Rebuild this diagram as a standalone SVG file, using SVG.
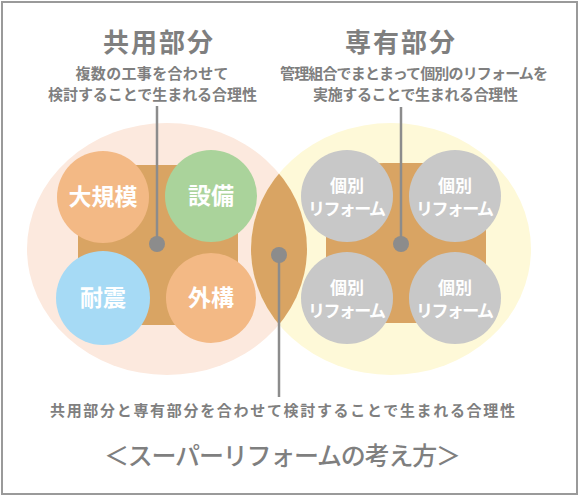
<svg xmlns="http://www.w3.org/2000/svg" width="579" height="498" viewBox="0 0 579 498">
<style>
.t{font-family:"Noto Sans CJK JP","Noto Sans",sans-serif;fill:#7f7f7f;text-anchor:middle}
.h{font-size:26px;font-weight:700}
.c{font-size:15px;font-weight:700}
.w{font-family:"Noto Sans CJK JP","Noto Sans",sans-serif;fill:#ffffff;text-anchor:middle;font-weight:700}
.big{font-size:23px}
.sm{font-size:17px}
.brown{fill:#d9a463}
.ln{stroke:#8c8c8c;stroke-width:2.5;fill:none}
.dot{fill:#8c8c8c}
.gray{fill:#c8c8c8}
</style>
<defs>
<clipPath id="clipL"><ellipse cx="167" cy="249" rx="140" ry="126"/></clipPath>
</defs>
<rect x="2" y="2" width="575" height="492" fill="#ffffff" stroke="#9a9a9a" stroke-width="2"/>
<g id="common-area">
<ellipse cx="167" cy="249" rx="140" ry="126" fill="#fce9de"/>
</g>
<g id="private-area">
<ellipse cx="391" cy="249" rx="140" ry="126" fill="#fef9d8"/>
</g>
<g id="overlap">
<ellipse cx="391" cy="249" rx="140" ry="126" class="brown" clip-path="url(#clipL)"/>
</g>
<g id="common-core">
<rect x="78" y="165" width="160" height="160" rx="58" class="brown"/>
</g>
<g id="private-core">
<rect x="326" y="163" width="160" height="160" rx="58" class="brown"/>
</g>
<g id="n-daikibo">
<circle cx="103" cy="197" r="46" fill="#f3b985"/>
<text class="w big" x="103" y="205">大規模</text>
</g>
<g id="n-setsubi">
<circle cx="211" cy="196" r="46" fill="#aad39b"/>
<text class="w big" x="211" y="204">設備</text>
</g>
<g id="n-taishin">
<circle cx="103" cy="298" r="47" fill="#a6daf5"/>
<text class="w big" x="103" y="306">耐震</text>
</g>
<g id="n-gaiko">
<circle cx="211" cy="298" r="45" fill="#f3b985"/>
<text class="w big" x="211" y="306">外構</text>
</g>
<g id="n-reform1">
<circle cx="347" cy="196" r="46" class="gray"/>
<text class="w sm" x="347" y="192">個別</text>
<text class="w sm" x="347" y="215" textLength="78">リフォーム</text>
</g>
<g id="n-reform2">
<circle cx="455" cy="196" r="46" class="gray"/>
<text class="w sm" x="455" y="192">個別</text>
<text class="w sm" x="455" y="215" textLength="78">リフォーム</text>
</g>
<g id="n-reform3">
<circle cx="347" cy="298" r="46" class="gray"/>
<text class="w sm" x="347" y="294">個別</text>
<text class="w sm" x="347" y="317" textLength="78">リフォーム</text>
</g>
<g id="n-reform4">
<circle cx="455" cy="298" r="46" class="gray"/>
<text class="w sm" x="455" y="294">個別</text>
<text class="w sm" x="455" y="317" textLength="78">リフォーム</text>
</g>
<g id="connectors">
<line class="ln" x1="157" y1="106" x2="157" y2="244"/>
<circle class="dot" cx="157" cy="244" r="8"/>
<line class="ln" x1="401" y1="107" x2="401" y2="244"/>
<circle class="dot" cx="401" cy="244" r="8"/>
<line class="ln" x1="279" y1="255" x2="279" y2="397"/>
<circle class="dot" cx="279" cy="255" r="8"/>
</g>
<g id="label-common">
<text class="t h" x="158" y="52" textLength="110">共用部分</text>
<text class="t c" x="152" y="79" textLength="153">複数の工事を合わせて</text>
<text class="t c" x="152.5" y="100" textLength="209">検討することで生まれる合理性</text>
</g>
<g id="label-private">
<text class="t h" x="400" y="52" textLength="110">専有部分</text>
<text class="t c" x="414" y="79" textLength="268">管理組合でまとまって個別のリフォームを</text>
<text class="t c" x="415.5" y="100" textLength="205">実施することで生まれる合理性</text>
</g>
<g id="label-overlap">
<text class="t c" x="282.5" y="416" font-size="16" textLength="465">共用部分と専有部分を合わせて検討することで生まれる合理性</text>
</g>
<g id="title">
<text class="t" x="282.5" y="465" font-size="25" font-weight="500" textLength="357">＜スーパーリフォームの考え方＞</text>
</g>
</svg>
